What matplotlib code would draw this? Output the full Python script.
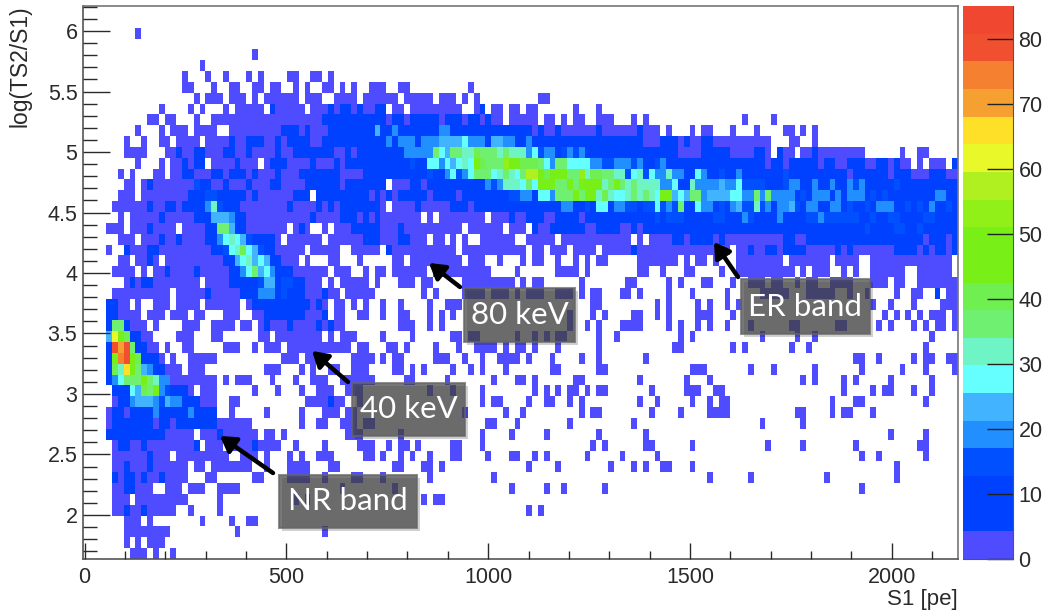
import numpy as np
import matplotlib
matplotlib.use("Agg")
import matplotlib.pyplot as plt
from matplotlib.colors import ListedColormap, BoundaryNorm
from matplotlib.patches import Rectangle
from matplotlib.ticker import MultipleLocator, FormatStrFormatter

W, H = 1045, 612
N_COLS = 150

# Colour levels of the histogram, bottom to top (each 4.25 counts wide)
level_colors = ["#4f4cff", "#0041ff", "#0041ff", "#0050ff", "#218fff", "#42b4ff", "#66ffff",
                "#6ff5c5", "#70f070", "#70f050", "#78f018", "#78f018", "#90f018", "#b0f020",
                "#e8f828", "#ffe028", "#f5a030", "#f58030", "#f05030", "#f04830"]
z_max = 85
cbar_ticks = [0, 10, 20, 30, 40, 50, 60, 70, 80]

# Histogram read row by row from the top: "a-b:L" = bins a..b hold colour level L (":0" omitted)
rows = [
"", "", "9", "", "29", "20",
"17 21 24 28 30 35-36 39-40 42",
"17-18 22 25-26 29-30 32-33 36 38 41-42 44 46 49-51 54-55 66",
"19 21-23 25-27 29 31-36 38-40 43-46 48-53 55-59 61-63 65 67 78-79",
"13 18 20 24 26-30 32:1 33-37 39-41 42:1 43 44-45:1 46 47:1 48-49 50:1 51:1 53-54 56-64 67 68:1 70-71 73-74 76-77 84 88",
"11-12 14-15 19 22-40 41-51:1 52 53-54:1 55 56-60:1 61 62-64:1 65 66-67:1 68 69:1 70-71 73-77 79-80 82 84-85 88-90 94 96 113 118",
"9 13 15-17 19-22 25-33 34-36:1 37 38:1 39-41 42-49:1 50:5 51-52:2 53:4 54-56:2 57:1 58-60:2 61-62:4 63:1 64:2 65-76:1 77 78:1 79-80 81:1 82-87 88:1 89-94 95:1 96-98 100 104 106-107 111 115 120-121 123 125",
"7 10 13-14 16-19 21-24 25:1 26-27 28-30:1 31-32 33:1 34 35-38:1 39-40 41-50:1 51:2 52:4 53:2 54-56:4 57:2 58-60:4 61-64:5 65:6 66-68:4 69:2 70-71:5 72-73:4 74-75:2 76:4 77:2 78:1 79-80:2 81-95:1 96-98 99-101:1 102 103:1 104-105 106-107:1 108-117 121-122 125",
"7-10 14-15 16:1 17-18 19-20:1 21-23 24-25:1 26-27 28:1 29-32 33:1 34-35 36-42:1 43-44 45:1 46 47-52:1 53-54:2 55-59:4 60:8 61:6 62:5 63-64:8 65-66:7 67:9 68-70:8 71:7 72:8 73-75:7 76:4 77:6 78:3 79-80:4 81:2 82:3 83:4 84:3 85:4 86-89:2 90-101:1 102-105 106-110:1 111-114 115-116:1 117 119:1 120-121 123-124 125:1 126-133 140 143-144",
"9 13 15-16 17:1 18 19-20:1 22-25 26:1 27-29 31 32-34:1 35-38 39:1 40-42 43:1 44 45-53:1 54:2 55:1 56:3 57-58:1 59-60:6 61:4 62:6 63:5 64:6 65:7 66:6 67:11 68:9 69-71:8 72:12 73-74:10 75-77:9 78:8 79:6 80:4 81-82:8 83-86:6 87-88:4 89-90:3 91-93:4 94:3 95:4 96-97:2 98:3 99:4 100:2 101-106:1 107-108:2 109-116:1 117 118-119:1 120 121-125:1 126 127-128:1 129-130 131-133:1 134-135 136-137:1 138 139:1 140-141 143 145-147 149:1",
"6 8 12-13 15-16 17-18:1 19-21 22-23:1 24 25-27:1 28 29:1 30-32 33:1 34-36 37-43:1 44-47 48-58:1 59:3 60-61:2 62:4 63:6 64:3 65:4 66:6 67-69:8 70:6 71:7 72:8 73:7 74:6 75:8 76-77:13 78:11 79:9 80-82:10 83-84:8 85:12 86:7 87-88:9 89-90:8 91-92:7 93:3 94:6 95:7 96:3 97:6 98-99:4 100:7 101-102:4 103-104:2 105:6 106:4 107:2 108:1 109:3 110-111:2 112:4 113-117:2 118-119:1 120:3 121-130:1 131 132-137:1 138 139-141:1 142-144 145-147:1 148-149",
"7-8 10 11:1 12-18 19:3 20-21:1 22-23 24:1 25-27 28:1 29-31 32-33:1 34-37 38-43:1 44 45-51:1 53-55 56-57:1 58 59-64:1 65-68:2 69:4 70:3 71:4 72-74:7 75:6 76:8 77:6 78-80:10 81-82:8 83:10 84:8 85-88:10 89:7 90:8 91:10 92:8 93:7 94:8 95-98:7 99-100:4 101:6 102-103:2 104:7 105-108:4 109:5 110-111:4 112:6 113-116:3 117-119:2 120:3 121-122:4 123-124:2 125:4 126-127:2 128:4 129-130:2 131:4 132:3 133:4 134-138:2 139:3 140-149:1",
"6-8 10-17 18-20:1 21-22:3 23-27:1 28 29:1 30-35 36-38:1 40-48:1 49 50:1 51 52:1 53 54-58:1 59 60-63:1 64 65-72:1 73-74:3 75-76:4 77:1 78-79:6 80:4 81-83:8 84:10 85:8 86-87:10 88:7 89:9 90:7 91-92:6 93:7 94:8 95:7 96:8 97:7 98:6 99:10 100:10 101:5 102:6 103:5 104-105:8 106:4 107-110:5 111-112:6 113-114:4 115:8 116:4 117:8 118-121:4 122:2 123:3 124:2 125-127:4 128:2 129:4 130:2 131-133:4 134:2 135:3 136:2 137:3 138-145:2 146-147:4 148-149:2",
"5-10 11:1 12-13 14-15:1 16 17-20:1 21:4 22:7 23:3 24-26:1 27-34 35:1 36-39 40:1 41 42:1 43 44-50:1 51 53-56 57:1 58-62 63-65:1 66 67-76:1 77-81:2 82-83:4 84-85:1 86:3 87:2 88-89:6 90:1 91-92:4 93-94:3 95:2 96-97:3 98:6 99:3 100:4 101:3 102:8 103-104:2 105:6 106-107:4 108:2 109:3 110:2 111:4 112:5 113-114:3 115:7 116:3 117:4 118:2 119-120:4 121:5 122:3 123:2 124-125:4 126-127:2 128-129:4 130:2 131:3 132-133:2 134:3 135:2 136-138:4 139-140:2 141:3 142:2 143:3 144:2 145:4 146-147:2 148:3 149:2",
"6 8-12 13:1 14-18 19-21:1 22-24:5 25:4 26-27:1 28-38 39:1 40-43 44-46:1 47 48:1 49 50:1 51-57 59 61-68 70-72 73:1 74-75 76-78:1 79-80 81-84:1 85 86-97:1 98:3 99:1 100:3 101-102:3 103-107:2 108-109:3 110-112:2 113:4 114:3 115-118:2 119:4 120-123:2 124-125:3 126:4 127-132:3 133-134:2 135:3 136-137:2 138-139:3 140-143:2 144-145:3 146-149:2",
"4-6 8-10 11:1 12-15 17-20 21-22:1 23-24:8 25:5 26-27:1 28-34 36 37:1 38 41 43-45 46-50:1 51-53 54:1 55-64 66-71 73-75 77:1 78-79 80-85:1 86-87 88-91:1 92-93 94:1 95 96-123:1 124-133:2 134:3 135-138:2 139-140:3 141-142:2 143:3 144-149:2",
"6-8 10-12 13:1 14-15 16:1 17-20 21-22:1 23:4 24:6 25:7 26:6 27:5 28:3 29-32:1 33 35-40 42-47 48-50:1 51-53 54-55:1 56-58 60-61 63 65 68-73 76-80 82-93 95 97-100 101-102:1 103 104-107:1 108 109:1 110-119 120-121:1 122-123 124-143:1 144 145-147:1 148 149:1",
"4 7:1 8-10 11-12:1 13-21 22-23:1 24:3 25:6 26:7 27:9 28:6 29:5 30:3 31-32:1 33-37 39-43 46-50 52:1 53-63 65-75 77-78 80-82 84-87 89-93 94:1 95-101 102-110 112-113 114:1 115-116 117-118:1 119 120-123:1 124-128 129:1 130 131:1 132-138 139-142:1 143 144:1 145 146-147:1 148 149:1",
"6-7 9-10 11:1 12 14-23 24-25:1 26:5 27:6 28:7 29:5 30:6 31:5 32-33:1 34-36 38 42-43 47 53-54 56-64 66-68 71 75 77-78 81 84 86 88-89 95-101 103 105-106 108 112-119 121-127 129-132 135-148",
"5-8 10 12-13 14:1 15-18 19:1 20-24 25-26:1 27:4 28:6 29:8 30:5 31:6 32:4 33-35:1 36-41 43-45 48 50-51 53-58 60-69 74 81-84 86 95-96 99 103-104 109 112-121 123 125-127 130 132 135-140 143-146 147-148",
"7 8:1 9 10-11:1 12-19 21-24 25-29:1 30:3 31-32:5 33:1 34-35:3 36-37:1 38-40 42 44-48 50 54-56 58-59 65-73 75 77-78 85 93-94 100 102 106-107 111 114-116 118-119 122 124-125 128-131 135-137 139-140 143-149",
"5-14 16-20 21:1 22-26 27-29:1 30-32:4 33:1 34:3 35-37:1 38-40 41:1 42-43 45-49 58 60 65-68 70-72 74 76-78 81-83 85 87-88 92-93 95 100 104 110 116-120 124-128 131 134 139 142-143 146:1 148-149",
"4-5:1 6-7 9 12-14 16-19 21-26 28 29-38:1 39 40:1 41 43-44 46 48 51 54 59 62-64 87-88 98 100 105 107 110 112 135 138 142 147-149",
"4-5:1 6-9 11-13 15-17 19-20 24-26 29-30 31-37:1 38-40 41:1 43-44 47-48 51 54-55 59 61 63 83 87 89 94-95 98 100 105-107 111 137 139 141 143 145-147 149",
"4:1 5-6:8 7:1 8-10 12 17-19 22-25 27-28 30 31:1 32-34 35:1 36-39 40:1 41 42:1 43-44 54-56 59 61 83 86 88 92-95 100 102 105 107 110 114 121-122 129-130 136 138 142 144 146-147 149",
"4:5 5:14 6:11 7:9 8-9:1 10-11 16-18 22-23 30-31 33-40 42 44-46 51 56 63-64 66-67 74 77 79 81-82 88 91 102 104 116 122 125 145",
"4:1 5:18 6:16 7:18 8:8 9-10:1 11-12 14 17-18 24-26 29 31-33 35-45 47-48 52-53 55 60 64 67-70 72 74-75 77 81 88 101-102 111 113 121 124 144",
"4:1 5:11 6:17 7:18 8:11 9:9 10-12:1 13 15 18-22 34-36 38-39 46-49 51 53-54 60-62 65 68 71-74 76 80 85 88 96 132-133 136 142 144-145 148-149",
"4:1 5:9 6:7 7:15 8:11 9:8 10:5 11:4 12-13:1 14-16 18-20 31-33 37 39 42-43 46-48 53-54 56 58 63 66 68 72 80-81 88-89 104-106 114 118 125 133 140 144 149",
"4:1 5:4 6:6 7-9:8 10:11 11:8 12:7 13-14:4 15-22 24 26-28 32 36 39-41 44-49 55-56 62 70 74-75 77 84-85 95 103 107 123 125 130 132 138 145",
"5-7:1 8:6 9:5 10:9 11:8 12:10 13:4 14:3 15-17:1 18 20-22 29 33 37 40-42 45-47 59 63 68 77 79 81 83-84 86 88-89 97 103-105 108-109 130 135 137-138 142 145",
"5 6-7:1 8:4 9-11:5 12:4 13:3 14:5 15-16:4 17-19:1 20-22 25-26 38-41 42:1 43-44 47 68 70-71 76 79-80 83 85 95 98 104 107 109-110 128 132-133 144",
"4 5-6:1 7 8-11:1 12:4 13:1 14:2 15-17:1 18:4 19-22:1 25 31 37 41-43 45-46 65 72 75 85 87-88 97 102 107-110 122-123 128 130-131 135",
"4 5-11:1 12 13-14:1 15 16-22:1 23-28 37 40-41 44-46 48-49 69-70 74 83 94 116 123",
"4-13:1 14-18 20-22 23:1 24-29 31-32 34 45-47 54 68 73 79 88 96 138 144",
"5 6-7:1 8-9 10:1 11-18 19:1 21-23 25-28 29:1 30-33 36 41 47-49 52 54-55 57 63-64 68 87 89 96-97 104 117 123 132 143-144",
"5-10 11:1 12-14 16-24 27-29 31 35 37 40-42 48-49 51 54 56 59 63-64 69 73-74 77 79 86 92 98 133 136 144",
"5-6 7:1 8-10 11:1 12-17 19-20 22-28 31 35-38 42-43 53-54 58-59 61 76 81 90 94 96 99-100 104 139",
"5:1 6 7-8:1 9 10:1 11-12 13:1 14-17 21-22 29-30 35-38 41 46-47 51 59 70 107 114 127 139",
"5-6 7-8:1 9-11 14-16 18-20 23-26 44 53 73 79 82 89 133",
"5-7 9-17 23 36 38 58 60-61",
"5-6 7:1 8-9 10:1 11-15 18 23 76 78",
"7-9 11 20 25 28-29",
"7-14 26 41",
"7 9 11-13",
"8-10 12 15",
]

x_ticks = [0, 500, 1000, 1500, 2000]
y_ticks = [2, 2.5, 3, 3.5, 4, 4.5, 5, 5.5, 6]
x_range = (-4, 2164)
y_range = (1.636, 6.207)

# Text boxes on the chart: label, box (x0, y0, x1, y1 px), arrow tail and tip (px, y down)
callouts = [
    ("NR band", (279, 475, 417, 528), (273, 473), (220, 436)),
    ("40 keV", (352, 383, 465, 436), (348, 382), (312, 351)),
    ("80 keV", (464, 288, 575, 342), (460, 287), (429, 263)),
    ("ER band", (741, 279, 870, 334), (738, 277), (714, 242)),
]

plt.rcParams["font.family"] = ["Liberation Sans", "DejaVu Sans"]
INK = "#2a2a2a"

levels = np.linspace(0, z_max, len(level_colors) + 1)
cmap = ListedColormap(level_colors)
norm = BoundaryNorm(levels, cmap.N)

counts = np.full((len(rows), N_COLS), np.nan)
for r, spec in enumerate(rows):
    for tok in spec.split():
        span, _, lev = tok.partition(":")
        a, _, b = span.partition("-")
        a = int(a)
        b = int(b) if b else a
        counts[r, a:b + 1] = (int(lev or 0) + 0.5) * z_max / len(level_colors)

fig = plt.figure(figsize=(W / 100, H / 100), dpi=100)


def px_rect(x0, y0, x1, y1):
    return [x0 / W, 1 - y1 / H, (x1 - x0) / W, (y1 - y0) / H]


ax = fig.add_axes(px_rect(83, 6, 958, 559))
ax.imshow(np.ma.masked_invalid(counts), cmap=cmap, norm=norm, origin="upper", aspect="auto",
          interpolation="nearest", extent=(x_range[0], x_range[1], y_range[0], y_range[1]))
ax.set_xlim(*x_range)
ax.set_ylim(*y_range)
ax.set_xticks(x_ticks)
ax.set_yticks(y_ticks)
ax.xaxis.set_minor_locator(MultipleLocator(100))
ax.yaxis.set_minor_locator(MultipleLocator(0.1))
ax.yaxis.set_major_formatter(FormatStrFormatter("%g"))
ax.tick_params(axis="x", which="major", direction="in", length=11.5, width=1, color=INK,
               labelsize=15.5, labelcolor=INK, pad=6)
ax.tick_params(axis="x", which="minor", direction="in", length=5.8, width=1, color=INK)
ax.tick_params(axis="y", which="major", direction="in", length=19.4, width=1, color=INK,
               labelsize=15.5, labelcolor=INK, pad=4)
ax.tick_params(axis="y", which="minor", direction="in", length=10, width=1, color=INK)
for name, spine in ax.spines.items():
    spine.set_color("#555555" if name in ("left", "bottom") else "#777777")
    spine.set_linewidth(1.2)
ax.set_axisbelow(False)

fig.text(958 / W, 1 - 605 / H, "S1 [pe]", ha="right", va="baseline", fontsize=16, color=INK)
fig.text(20 / W, 1 - 5 / H, "log(TS2/S1)", rotation=90, ha="center", va="top", fontsize=16.5, color=INK)

cax = fig.add_axes(px_rect(963, 6, 1013, 559))
cax.pcolormesh([0, 1], levels, ((levels[:-1] + levels[1:]) / 2)[:, None], cmap=cmap, norm=norm)
cax.set_xlim(0, 1)
cax.set_ylim(0, z_max)
cax.set_xticks([])
cax.set_yticks(cbar_ticks)
cax.yaxis.tick_right()
cax.tick_params(axis="y", direction="in", length=18.7, width=1, color="#222222",
                labelsize=15.5, labelcolor=INK, pad=4)
for name, spine in cax.spines.items():
    spine.set_visible(name in ("right", "bottom"))
    spine.set_color("#555555")

for text, (x0, y0, x1, y1), tail, tip in callouts:
    fig.add_artist(Rectangle((x0 + 3, H - y1 - 3), x1 - x0, y1 - y0, transform=None,
                             facecolor="#000000", alpha=0.18, edgecolor="none", zorder=5))
    fig.add_artist(Rectangle((x0, H - y1), x1 - x0, y1 - y0, transform=None,
                             facecolor="#444444", alpha=0.72, edgecolor="#666666", lw=1.5, zorder=6))
    fig.text((x0 + x1) / 2 / W, 1 - (y0 + y1) / 2 / H, text, ha="center", va="center",
             family=["Lato", "DejaVu Sans"], fontsize=22.5, color="white", zorder=7)
    fig.add_artist(plt.Annotation("", xy=(tip[0] / W, 1 - tip[1] / H), xytext=(tail[0] / W, 1 - tail[1] / H),
                                  xycoords="figure fraction", textcoords="figure fraction",
                                  arrowprops=dict(arrowstyle="-|>,head_length=0.9,head_width=0.55", lw=3.2,
                                                  color="black", shrinkA=0, shrinkB=0), zorder=8))

fig.savefig("out.png", dpi=100)
